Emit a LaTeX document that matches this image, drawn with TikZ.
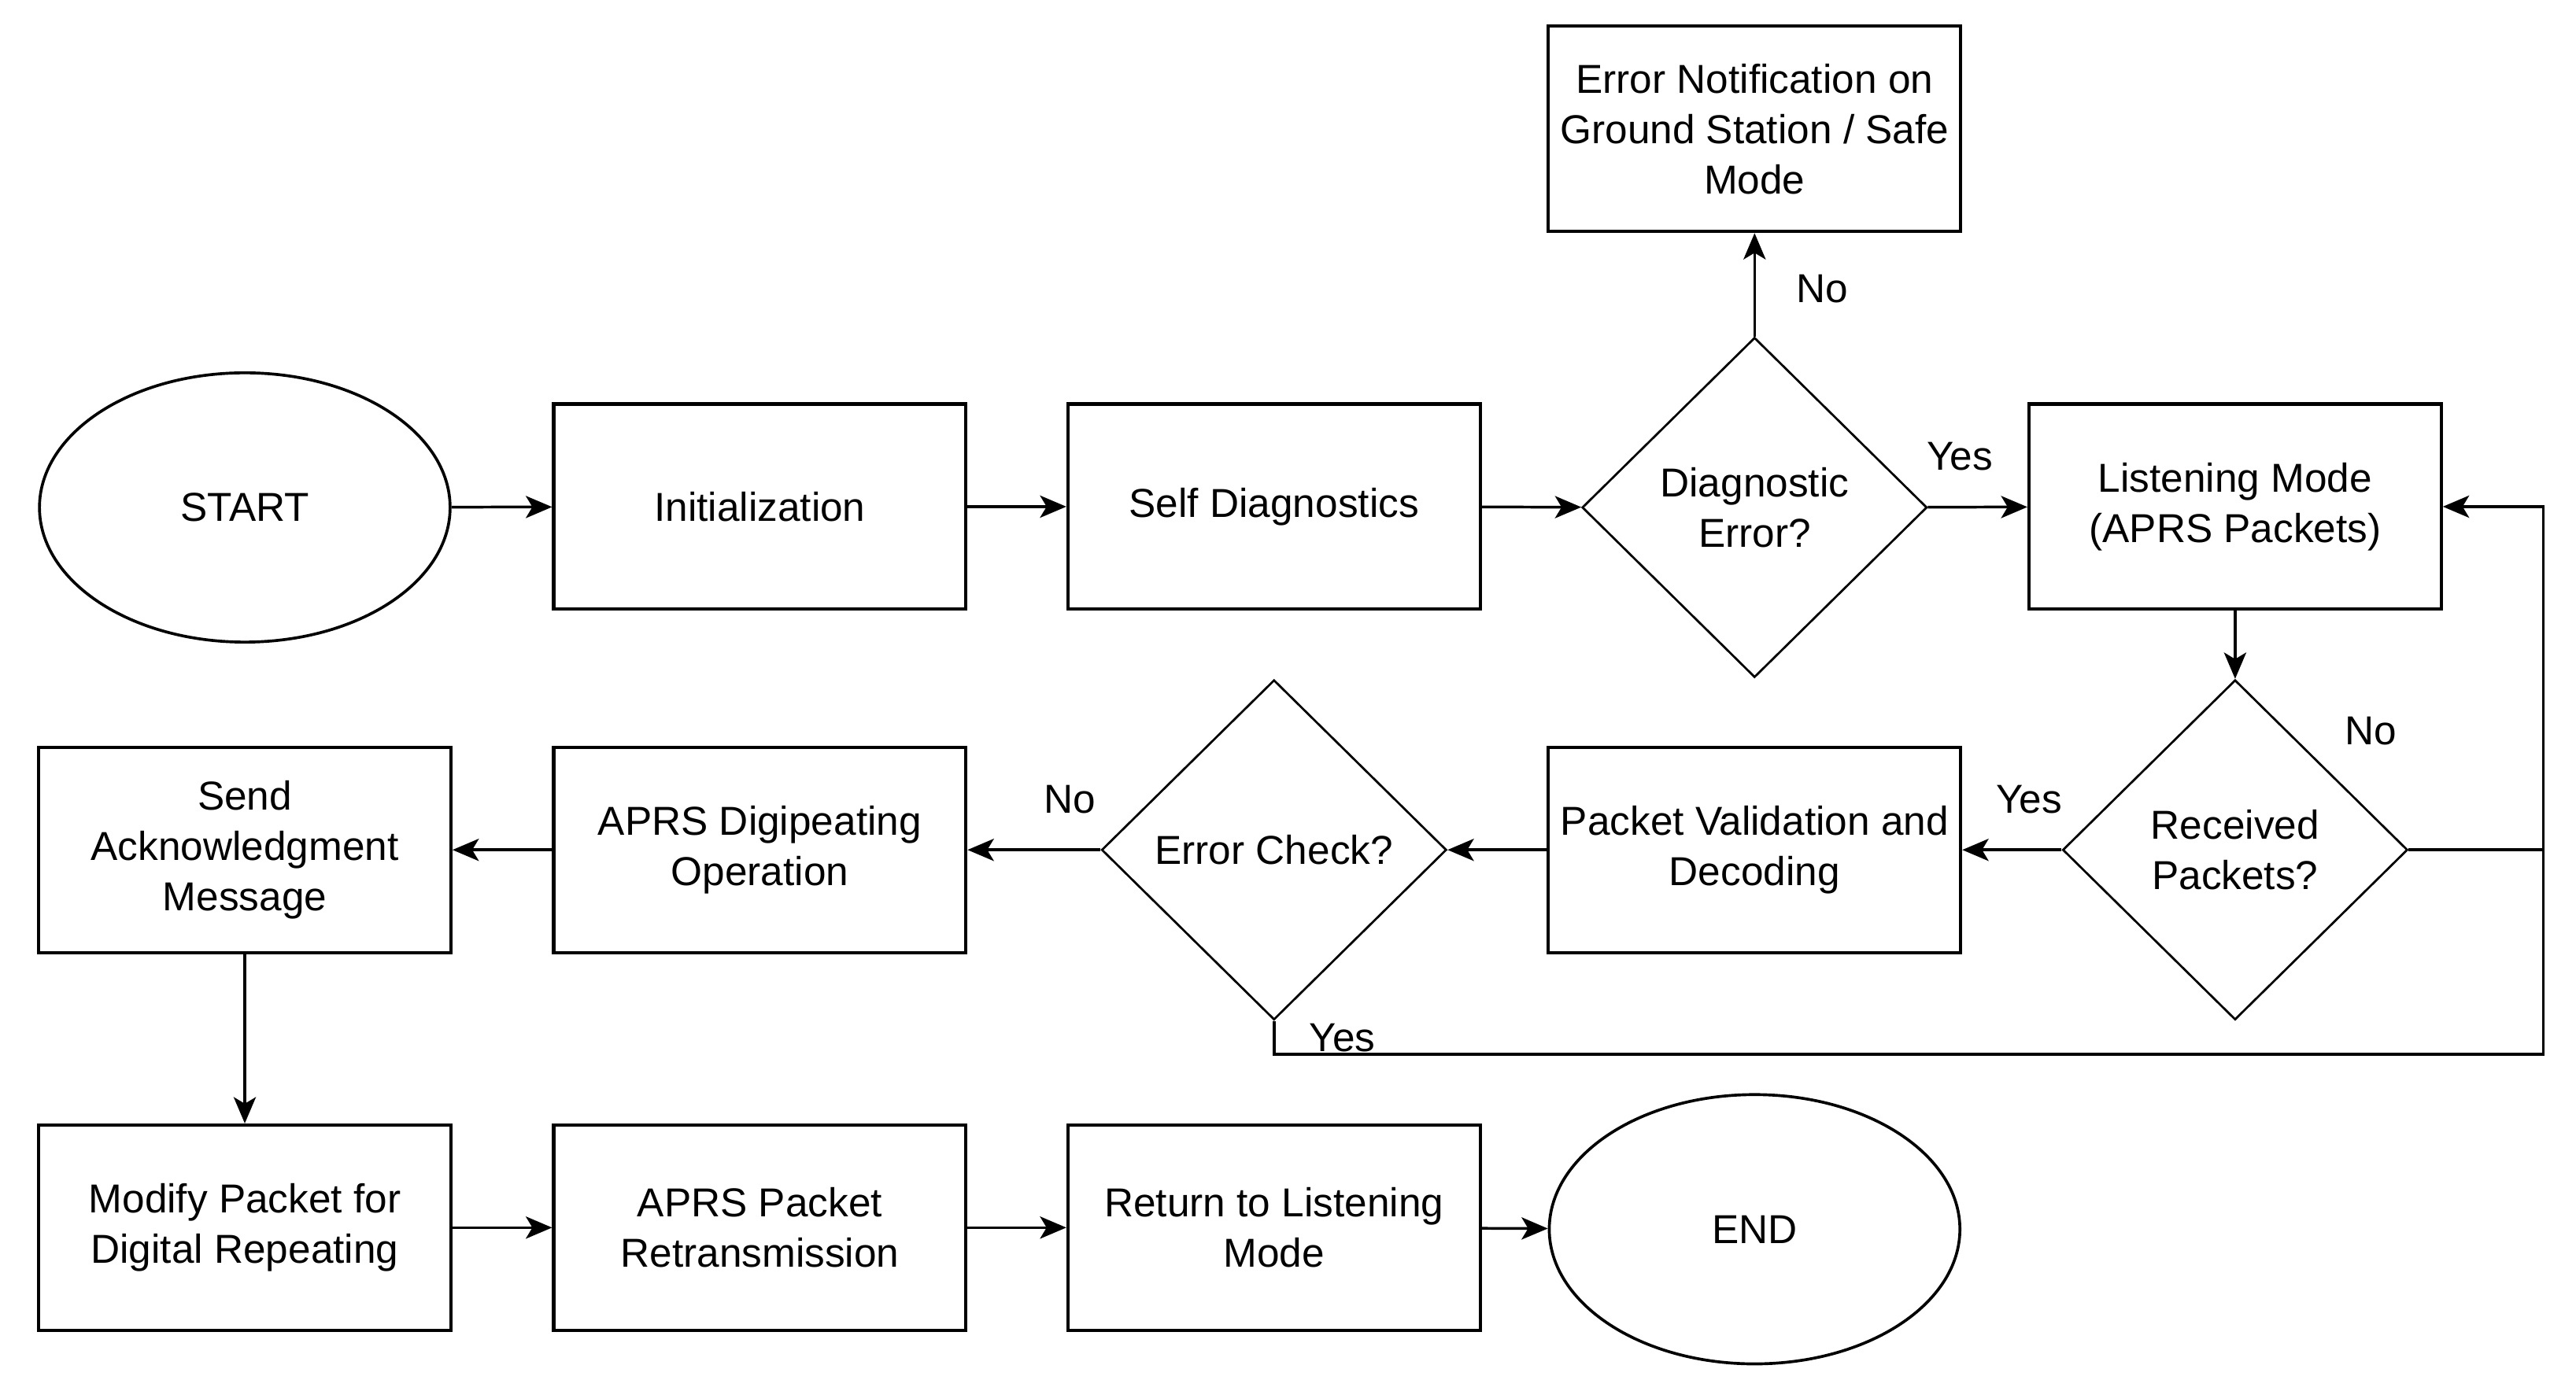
\documentclass[tikz,border=0pt]{standalone}
\usepackage{fontspec}
\setmainfont{Liberation Sans}
\usetikzlibrary{shapes.geometric,arrows.meta}
\begin{document}
\begin{tikzpicture}[x=0.02cm,y=-0.02cm,
  font=\fontsize{14}{17.5}\selectfont,
  box/.style={draw, line width=1.1pt, minimum width=5.02cm, minimum height=2.5cm, align=center, inner sep=2pt},
  dec/.style={draw, diamond, line width=0.75pt, minimum width=4.2cm, minimum height=4.14cm, aspect=1, inner sep=0pt, align=center},
  term/.style={draw, ellipse, line width=1pt, minimum width=5cm, minimum height=3.28cm},
  conn/.style={line width=0.95pt, -{Stealth[length=0.32cm,width=0.27cm,inset=0.08cm]}},
  plain/.style={line width=0.95pt},
  lab/.style={inner sep=0pt}]
\useasboundingbox (0,0) rectangle (1568,847);

% row 1
\node[term] (start) at (149,309) {START};
\node[box] (init) at (462.5,308.5) {Initialization};
\node[box] (selfd) at (775.5,308.5) {Self Diagnostics};
\node[dec] (diag) at (1068,309) {Diagnostic\\Error?};
\node[box] (errnot) at (1068,78.5) {Error Notification on\\Ground Station / Safe\\Mode};
\node[box] (listen) at (1360.5,308.5) {Listening Mode\\(APRS Packets)};

% row 2
\node[dec] (recv) at (1360.5,517.5) {Received\\Packets?};
\node[box] (valid) at (1068,517.5) {Packet Validation and\\Decoding};
\node[dec] (echeck) at (775.5,517.5) {Error Check?};
\node[box] (digi) at (462.5,517.5) {APRS Digipeating\\Operation};
\node[box] (ack) at (149,517.5) {Send\\Acknowledgment\\Message};

% row 3
\node[box] (modify) at (149,747.5) {Modify Packet for\\Digital Repeating};
\node[box] (retx) at (462.5,747.5) {APRS Packet\\Retransmission};
\node[box] (ret) at (775.5,747.5) {Return to Listening\\Mode};
\node[term] (end) at (1068,748.5) {END};

% connectors
\draw[conn] (start) -- (init);
\draw[conn] (init) -- (selfd);
\draw[conn] (selfd) -- (diag);
\draw[conn] (diag) -- (listen);
\draw[conn] (diag) -- (errnot);
\draw[conn] (listen) -- (recv);
\draw[conn] (recv) -- (valid);
\draw[conn] (valid) -- (echeck);
\draw[conn] (echeck) -- (digi);
\draw[conn] (digi) -- (ack);
\draw[conn] (ack) -- (modify);
\draw[conn] (modify) -- (retx);
\draw[conn] (retx) -- (ret);
\draw[conn] (ret) -- (end);

\coordinate (loopR) at (1548,517.5);
\coordinate (loopB) at (1548,642);
\draw[conn] (recv.east) -- (loopR) |- (listen.east);
\draw[plain] (echeck.south) |- (loopB) -- (loopR);

% labels
\node[lab] (lno1) at (1109,176) {No};
\node[lab] (lyes1) at (1193,278) {Yes};
\node[lab] (lyes2) at (1235,487) {Yes};
\node[lab] (lno2) at (1443,445) {No};
\node[lab] (lno3) at (651,487) {No};
\node[lab] (lyes3) at (817,632) {Yes};
\end{tikzpicture}
\end{document}
